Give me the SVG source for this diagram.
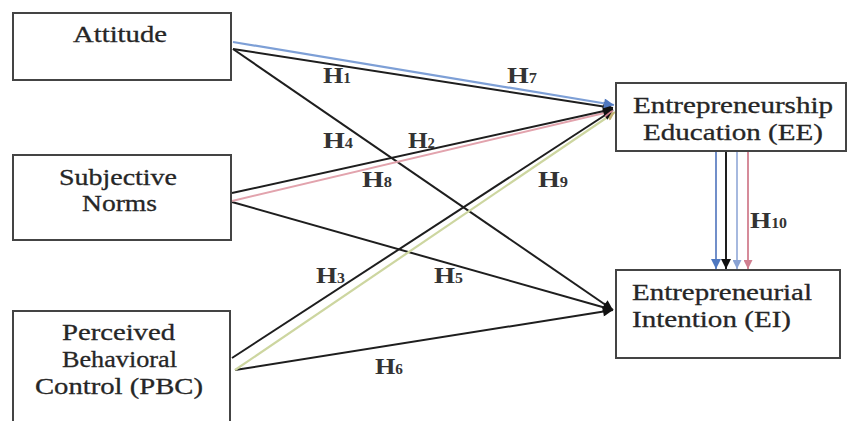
<svg xmlns="http://www.w3.org/2000/svg" width="848" height="421" viewBox="0 0 848 421">
<style>
.box{fill:#fff;stroke:#444;stroke-width:2}
.nt{font-family:"Liberation Serif","Times New Roman",serif;font-size:24px;fill:#262626;stroke:#262626;stroke-width:0.3px}
.lb{font-family:"Liberation Serif","Times New Roman",serif;font-size:24px;font-weight:bold;fill:#333;}
.sub{font-size:14px}
.k{stroke:#1e1e1e;stroke-width:2;fill:none}
.bl{stroke:#7d9fd6;stroke-width:2.2;fill:none}
.bl2{stroke:#6283c4;stroke-width:1.8;fill:none}
.lbl{stroke:#9db2dc;stroke-width:1.8;fill:none}
.pk{stroke:#e2a3ad;stroke-width:2;fill:none}
.pk2{stroke:#d27f8f;stroke-width:1.8;fill:none}
.yg{stroke:#cdd6a0;stroke-width:2.2;fill:none}
</style>
<defs>
<marker id="ak" viewBox="0 0 10 10" refX="10" refY="5" markerWidth="12" markerHeight="10" markerUnits="userSpaceOnUse" orient="auto"><path d="M0,0 L10,5 L0,10 z" fill="#111"/></marker>
<marker id="abl" viewBox="0 0 10 10" refX="10" refY="5" markerWidth="12" markerHeight="10" markerUnits="userSpaceOnUse" orient="auto"><path d="M0,0 L10,5 L0,10 z" fill="#4f78c0"/></marker>
<marker id="alb" viewBox="0 0 10 10" refX="10" refY="5" markerWidth="10" markerHeight="9" markerUnits="userSpaceOnUse" orient="auto"><path d="M0,0 L10,5 L0,10 z" fill="#8aa3d4"/></marker>
<marker id="apk" viewBox="0 0 10 10" refX="10" refY="5" markerWidth="10" markerHeight="9" markerUnits="userSpaceOnUse" orient="auto"><path d="M0,0 L10,5 L0,10 z" fill="#d07f90"/></marker>
<marker id="ayg" viewBox="0 0 10 10" refX="10" refY="5" markerWidth="10" markerHeight="9" markerUnits="userSpaceOnUse" orient="auto"><path d="M0,0 L10,5 L0,10 z" fill="#c2b070"/></marker>
</defs>
<rect width="848" height="421" fill="#fff"/>

<g id="connectors">
<line class="k" x1="233" y1="49" x2="613" y2="310" marker-end="url(#ak)"/>
<line class="k" x1="232" y1="202" x2="613" y2="310" marker-end="url(#ak)"/>
<line class="k" x1="235" y1="370" x2="613" y2="310" marker-end="url(#ak)"/>
<line class="yg" x1="235" y1="370" x2="615" y2="112" marker-end="url(#ayg)"/>
<line class="k" x1="232" y1="358" x2="613" y2="110" marker-end="url(#ak)"/>
<line class="pk" x1="232" y1="201" x2="613" y2="111" marker-end="url(#apk)"/>
<line class="k" x1="232" y1="193" x2="613" y2="109" marker-end="url(#ak)"/>
<line class="k" x1="233" y1="49" x2="613" y2="108" marker-end="url(#ak)"/>
<line class="bl" x1="233" y1="42" x2="614" y2="105" marker-end="url(#abl)"/>
<line class="bl2" x1="716" y1="152" x2="716" y2="269" marker-end="url(#abl)"/>
<line class="k" x1="726" y1="152" x2="726" y2="269" marker-end="url(#ak)"/>
<line class="lbl" x1="737" y1="152" x2="737" y2="269" marker-end="url(#alb)"/>
<line class="pk2" x1="748" y1="152" x2="748" y2="269" marker-end="url(#apk)"/>
</g>

<g id="labels">
<text class="lb" x="323" y="83" textLength="28" lengthAdjust="spacingAndGlyphs">H<tspan class="sub">1</tspan></text>
<text class="lb" x="507" y="83" textLength="30" lengthAdjust="spacingAndGlyphs">H<tspan class="sub">7</tspan></text>
<text class="lb" x="323" y="148" textLength="30" lengthAdjust="spacingAndGlyphs">H<tspan class="sub">4</tspan></text>
<text class="lb" x="408" y="148" textLength="27" lengthAdjust="spacingAndGlyphs">H<tspan class="sub">2</tspan></text>
<text class="lb" x="362" y="187" textLength="30" lengthAdjust="spacingAndGlyphs">H<tspan class="sub">8</tspan></text>
<text class="lb" x="538" y="187" textLength="30" lengthAdjust="spacingAndGlyphs">H<tspan class="sub">9</tspan></text>
<text class="lb" x="316" y="283" textLength="29" lengthAdjust="spacingAndGlyphs">H<tspan class="sub">3</tspan></text>
<text class="lb" x="434" y="283" textLength="29" lengthAdjust="spacingAndGlyphs">H<tspan class="sub">5</tspan></text>
<text class="lb" x="375" y="374" textLength="28" lengthAdjust="spacingAndGlyphs">H<tspan class="sub">6</tspan></text>
<text class="lb" x="750" y="228" textLength="37" lengthAdjust="spacingAndGlyphs">H<tspan class="sub">10</tspan></text>
</g>

<g id="attitude">
<rect class="box" x="13" y="13" width="218" height="67"/>
<text class="nt" x="73" y="42" textLength="94" lengthAdjust="spacingAndGlyphs">Attitude</text>
</g>
<g id="subjective-norms">
<rect class="box" x="13" y="155" width="218" height="85"/>
<text class="nt" x="59" y="185" textLength="118" lengthAdjust="spacingAndGlyphs">Subjective</text>
<text class="nt" x="82" y="211" textLength="75" lengthAdjust="spacingAndGlyphs">Norms</text>
</g>
<g id="pbc">
<rect class="box" x="13" y="311" width="217" height="120"/>
<text class="nt" x="62" y="340" textLength="113" lengthAdjust="spacingAndGlyphs">Perceived</text>
<text class="nt" x="62" y="367" textLength="115" lengthAdjust="spacingAndGlyphs">Behavioral</text>
<text class="nt" x="35" y="394" textLength="168" lengthAdjust="spacingAndGlyphs">Control (PBC)</text>
</g>
<g id="ee">
<rect class="box" x="616" y="83" width="230" height="68"/>
<text class="nt" x="633" y="113" textLength="200" lengthAdjust="spacingAndGlyphs">Entrepreneurship</text>
<text class="nt" x="643" y="140" textLength="180" lengthAdjust="spacingAndGlyphs">Education (EE)</text>
</g>
<g id="ei">
<rect class="box" x="616" y="270" width="224" height="88"/>
<text class="nt" x="632" y="300" textLength="180" lengthAdjust="spacingAndGlyphs">Entrepreneurial</text>
<text class="nt" x="632" y="327" textLength="159" lengthAdjust="spacingAndGlyphs">Intention (EI)</text>
</g>
</svg>
